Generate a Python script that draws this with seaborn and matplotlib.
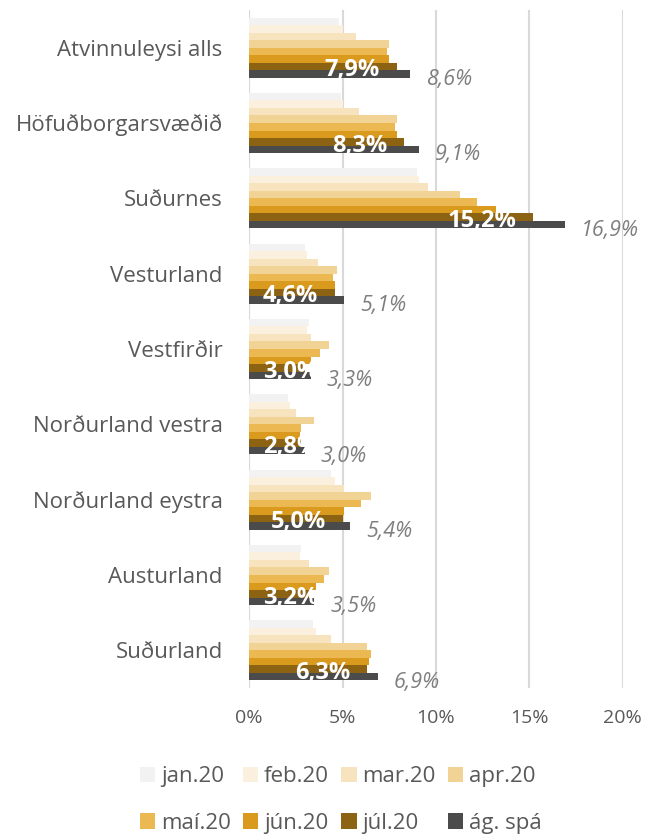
import pandas as pd
import numpy as np
import matplotlib.pyplot as plt
import seaborn as sns

# Unemployment by region, %
regions = ['Atvinnuleysi alls', 'Höfuðborgarsvæðið', 'Suðurnes', 'Vesturland',
           'Vestfirðir', 'Norðurland vestra', 'Norðurland eystra', 'Austurland',
           'Suðurland']
months = ['jan.20', 'feb.20', 'mar.20', 'apr.20', 'maí.20', 'jún.20', 'júl.20', 'ág. spá']

jan = [4.8, 4.9, 9.0, 3.0, 3.2, 2.1, 4.4, 2.8, 3.4]
feb = [5.0, 5.0, 9.1, 3.1, 3.1, 2.2, 4.6, 2.7, 3.6]
mar = [5.7, 5.9, 9.6, 3.7, 3.3, 2.5, 5.1, 3.2, 4.4]
apr = [7.5, 7.9, 11.3, 4.7, 4.3, 3.5, 6.5, 4.3, 6.3]
mai = [7.4, 7.8, 12.2, 4.5, 3.8, 2.8, 6.0, 4.0, 6.5]
jun = [7.5, 7.9, 13.2, 4.6, 3.3, 2.7, 5.1, 3.6, 6.4]
jul = [7.9, 8.3, 15.2, 4.6, 3.0, 2.8, 5.0, 3.2, 6.3]
ag_spa = [8.6, 9.1, 16.9, 5.1, 3.3, 3.0, 5.4, 3.5, 6.9]

colors = ['#f2f2f2', '#fbefdd', '#f7e3bd', '#f2d396', '#ebb851', '#d99a1e', '#8c6213', '#4b4b4b']

series = [jan, feb, mar, apr, mai, jun, jul, ag_spa]
df = pd.DataFrame({
    'region': np.repeat([regions], len(months), axis=0).ravel(),
    'month': np.repeat(months, len(regions)),
    'value': np.concatenate(series),
})

sns.set_style('white')
plt.rcParams['font.family'] = ['Open Sans', 'DejaVu Sans']

fig = plt.figure(figsize=(6.59, 8.36), dpi=100)
ax = fig.add_axes([0.378, 0.177, 0.567, 0.811])

sns.barplot(data=df, y='region', x='value', hue='month', order=regions,
            hue_order=months, palette=colors, width=0.8, gap=0, saturation=1,
            linewidth=0, orient='h', ax=ax, legend=True)

ax.set_xlim(0, 20)
ax.set_xticks([0, 5, 10, 15, 20])
ax.set_xticklabels(['0%', '5%', '10%', '15%', '20%'])
ax.xaxis.grid(True, color='#d9d9d9', linewidth=1.5)
ax.set_axisbelow(True)
for s in ax.spines.values():
    s.set_visible(False)
ax.axvline(0, color='#d9d9d9', linewidth=1.5, zorder=0)
ax.set_xlabel('')
ax.set_ylabel('')
ax.tick_params(axis='y', length=0, pad=19, labelsize=16, labelcolor='#595959')
ax.tick_params(axis='x', length=0, pad=15, labelsize=14, labelcolor='#595959')

# white labels for júl.20 and grey italic labels for the forecast
for i, (vj, va) in enumerate(zip(jul, ag_spa)):
    xr = max(vj - 0.9, 3.7)
    ax.text(xr, i + 0.26, f'{vj:.1f}%'.replace('.', ','), ha='right',
            va='center_baseline', color='white', fontsize=17, fontweight='bold',
            zorder=5)
    ax.text(va + 0.85, i + 0.39, f'{va:.1f}%'.replace('.', ','), ha='left',
            va='center_baseline', color='#7f7f7f', fontsize=15.5,
            fontstyle='italic', zorder=5)

handles, labels = ax.get_legend_handles_labels()
ax.get_legend().remove()
idx = [0, 4, 1, 5, 2, 6, 3, 7]
fig.legend([handles[k] for k in idx], [labels[k] for k in idx], loc='center',
           bbox_to_anchor=(0.517, 0.043), ncol=4, frameon=False, fontsize=16,
           labelcolor='#595959', handlelength=0.7, handleheight=0.7,
           handletextpad=0.25, columnspacing=0.55, labelspacing=1.15)

fig.savefig('out.png', dpi=100)
